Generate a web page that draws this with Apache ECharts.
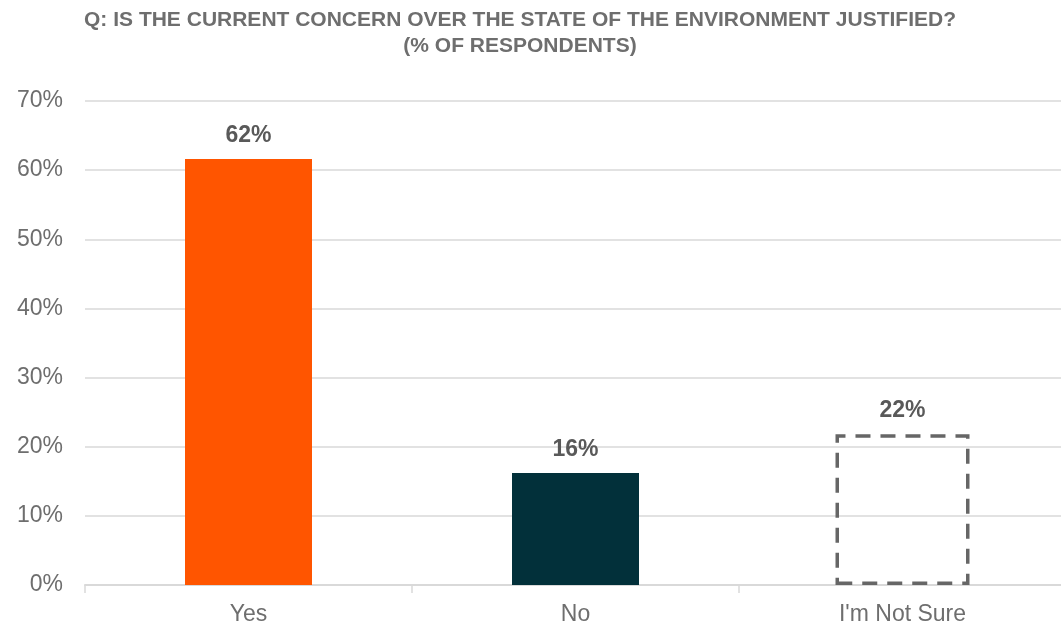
<!DOCTYPE html>
<html><head><meta charset="utf-8">
<script src="https://cdn.jsdelivr.net/npm/echarts@6/dist/echarts.min.js"></script>
<style>html,body{margin:0;padding:0;background:#fff}#c{width:1061px;height:627px}</style>
</head><body><div id="c"></div>
<script>
const categories = ["Yes", "No", "I'm Not Sure"];
const values = [61.6, 16.2, 21.8];
const labels = ["62%", "16%", "22%"];
const yTicks = [0, 10, 20, 30, 40, 50, 60, 70];
const titleLines = ['Q: IS THE CURRENT CONCERN OVER THE STATE OF THE ENVIRONMENT JUSTIFIED?', '(% OF RESPONDENTS)'];

const solidColors = ['#FF5500', '#02303A'];

const labelStyle = {
  show: true, position: 'top', distance: 12,
  fontFamily: 'Liberation Sans', fontSize: 23, fontWeight: 'bold', color: '#595959'
};

const tStyle = {fontFamily: 'Liberation Sans', fontSize: 21, fontWeight: 'bold', color: '#6E6E6E'};
const axisLabelStyle = {fontFamily: 'Liberation Sans', fontSize: 23, color: '#6E6E6E'};

const chart = echarts.init(document.getElementById('c'));
chart.setOption({
  animation: false,
  title: [
    {text: titleLines[0], left: 515, textAlign: 'center', top: 5, textStyle: tStyle},
    {text: titleLines[1], left: 515, textAlign: 'center', top: 31, textStyle: tStyle}
  ],
  grid: {left: 85, width: 981, top: 101, bottom: 42, outerBoundsMode: 'none', containLabel: false},
  xAxis: [{
    type: 'category', data: categories,
    axisLine: {lineStyle: {color: '#D9D9D9', width: 2}},
    axisTick: {show: true, length: 8, lineStyle: {color: '#D9D9D9', width: 1.5}},
    axisLabel: Object.assign({margin: 18}, axisLabelStyle)
  }, {
    type: 'category', data: categories, position: 'bottom', show: false
  }],
  yAxis: {
    type: 'value', min: 0, max: 70, interval: 10,
    axisLabel: Object.assign({formatter: v => yTicks.includes(v) ? v + '%' : '', margin: 22}, axisLabelStyle),
    splitLine: {lineStyle: {color: '#D9D9D9', width: 1.5}},
    axisLine: {show: false}, axisTick: {show: false}
  },
  series: [{
    type: 'bar', xAxisIndex: 0, barWidth: 127,
    data: values.map((v, j) => j < 2 ? {value: v, itemStyle: {color: solidColors[j]}} : '-'),
    label: Object.assign({}, labelStyle, {formatter: p => labels[p.dataIndex]})
  }, {
    type: 'bar', xAxisIndex: 1, barWidth: 134,
    data: values.map((v, j) => j === 2 ? v : '-'),
    itemStyle: {color: 'rgba(255,255,255,0)', borderColor: '#666666', borderWidth: 3.5, borderType: [15, 10]},
    label: Object.assign({}, labelStyle, {formatter: p => labels[p.dataIndex]})
  }]
});
</script></body></html>
